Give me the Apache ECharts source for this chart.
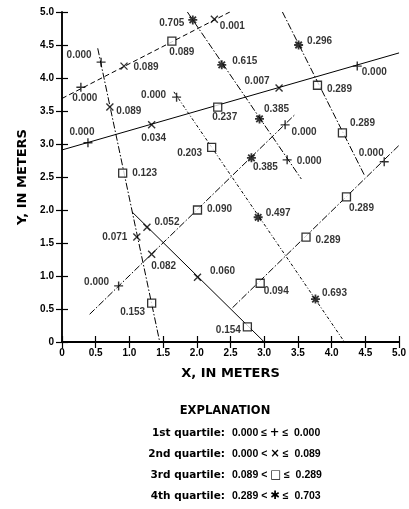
<!DOCTYPE html>
<html>
<head>
<meta charset="utf-8">
<script src="https://cdn.jsdelivr.net/npm/echarts@6/dist/echarts.min.js"></script>
<style>html,body{margin:0;padding:0;background:#fff}#c{width:409px;height:509px}</style>
</head>
<body>
<div id="c"></div>
<script>
// Transect lines (start / end points, meters)
const lineNames = ['A','B','C','E','F','G','H','I','J'];
const lineStarts = [[0,2.91],[1.86,5.0],[0.41,0.42],[0,3.69],[0.53,4.45],[1.04,1.97],[2.53,0.52],[3.27,5.0],[1.66,3.79]];
const lineEnds   = [[5,4.38],[3.55,2.47],[3.45,3.44],[2.49,5.0],[1.45,0],[3.0,0],[5.0,2.98],[4.49,2.52],[4.19,0]];
const lineDash   = ['solid','dashdot','dashdot','dashed','dashdot','solid','dashdot','dashdot','dotdash'];

// Sample points
const pointX = [0.385,1.33,2.31,3.22,4.38, 1.94,2.37,2.93,3.34, 0.84,1.33,2.01,2.81,3.31, 0.28,0.92,1.63,2.26, 0.58,0.71,0.90,1.11,1.33, 1.26,2.01,2.75, 2.94,3.62,4.22,4.78, 3.51,3.79,4.16, 1.70,2.22,2.91,3.76];
const pointY = [3.02,3.29,3.56,3.85,4.18, 4.88,4.20,3.38,2.76, 0.85,1.33,2.00,2.79,3.29, 3.86,4.18,4.56,4.89, 4.24,3.56,2.56,1.59,0.59, 1.74,0.98,0.23, 0.89,1.59,2.20,2.73, 4.50,3.89,3.17, 3.71,2.95,1.89,0.65];
const pointText = ['0.000','0.034','0.237','0.007','0.000', '0.705','0.615','0.385','0.000', '0.000','0.082','0.090','0.385','0.000', '0.000','0.089','0.089','0.001', '0.000','0.089','0.123','0.071','0.153', '0.052','0.060','0.154', '0.094','0.289','0.289','0.000', '0.296','0.289','0.289', '0.000','0.203','0.497','0.693'];
const pointQuartile = [1,2,3,2,1, 4,4,4,1, 1,2,3,4,1, 1,2,3,2, 1,2,3,2,3, 2,2,3, 3,3,3,1, 4,3,3, 1,3,4,4];
// label placement (pixels, relative to marker) — styling only
const labelOffsets = [[-6,-10],[2,13],[7,10],[-22,-7],[17,6], [-21,3],[23,-4],[17,-10],[22,1], [-22,-4],[12,12],[22,-1],[14,9],[19,7], [4,11],[22,1],[10,11],[18,7], [-22,-7],[19,4],[22,0],[-22,0],[-19,9], [20,-5],[25,-6],[-19,3], [16,8],[22,3],[15,11],[-13,-9], [21,-4],[22,4],[20,-10], [-23,-2],[-22,6],[20,-4],[19,-6]];

// Axis ticks
const axisMin = 0, axisMax = 5, axisStep = 0.5;

// Explanation
const legendTitle = 'EXPLANATION';
const legendLabels = ['1st quartile:','2nd quartile:','3rd quartile:','4th quartile:'];
const legendLow  = ['0.000','0.000','0.089','0.289'];
const legendOp   = ['\u2264','<','<','<'];
const legendSym  = ['+','\u00d7','\u25a1','\u2731'];
const legendHigh = ['0.000','0.089','0.289','0.703'];

const FONT = 'Liberation Sans, Arial, Helvetica, sans-serif';
const WIDE = 'DejaVu Sans, sans-serif';
const dashMap = {solid:'solid', dashed:[5,3], dashdot:[7,2,1.5,2], dotdash:[3,2,1,2]};
const symbols = {
  1: 'path://M5 0L5 10M0 5L10 5',
  2: 'path://M0 0L10 10M10 0L0 10',
  3: 'rect',
  4: 'path://M5 0L5 10M0 5L10 5M1.4 1.4L8.6 8.6M8.6 1.4L1.4 8.6'
};
const symSize = {1:9, 2:7, 3:8, 4:9};
const symStyle = {
  1:{color:'#000', borderColor:'#000', borderWidth:1.4},
  2:{color:'#000', borderColor:'#000', borderWidth:1.4},
  3:{color:'#fff', borderColor:'#000', borderWidth:1.3},
  4:{color:'#000', borderColor:'#000', borderWidth:1.8}
};

const series = [];
lineNames.forEach((n,i)=>{
  series.push({
    type:'line', name:'line'+n, silent:true, symbol:'none', z:2,
    data:[lineStarts[i], lineEnds[i]],
    lineStyle:{color:'#000', width:1, type:dashMap[lineDash[i]]}
  });
});
[1,2,3,4].forEach(q=>{
  const data = [];
  pointX.forEach((x,i)=>{
    if (pointQuartile[i]!==q) return;
    data.push({value:[x, pointY[i]], label:{formatter:pointText[i], offset:labelOffsets[i]}});
  });
  series.push({
    type:'scatter', name:'q'+q, z:5, symbol:symbols[q], symbolSize:symSize[q],
    itemStyle:symStyle[q], data:data,
    label:{show:true, position:'inside', color:'#000', fontFamily:FONT, fontWeight:'bold', fontSize:10},
    emphasis:{disabled:true}
  });
});

const fmt = v => v===0 ? '0' : v.toFixed(1);
const axisCommon = {
  type:'value', min:axisMin, max:axisMax, interval:axisStep,
  splitLine:{show:false},
  axisLine:{show:true, lineStyle:{color:'#000', width:1.5}},
  axisTick:{show:true, inside:true, length:6, lineStyle:{color:'#000', width:1.2}}
};

const graphic = [{type:'text', style:{text:legendTitle, x:225, y:411, textAlign:'center', textVerticalAlign:'middle', fontFamily:WIDE, fontWeight:'bold', fontSize:11.5, fill:'#000'}}];
legendLabels.forEach((t,i)=>{
  const y = 433 + i*21;
  graphic.push({type:'text', style:{text:t, x:225, y:y, textAlign:'right', textVerticalAlign:'middle', fontFamily:WIDE, fontWeight:'bold', fontSize:10.5, fill:'#000'}});
  graphic.push({type:'text', style:{
    text:'{n|'+legendLow[i]+' '+legendOp[i]+' }{s|'+legendSym[i]+'}{n| \u2264  '+legendHigh[i]+'}',
    x:232, y:y, textAlign:'left', textVerticalAlign:'middle', fill:'#000',
    fontFamily:FONT, fontWeight:'bold', fontSize:10,
    rich:{
      n:{fontFamily:FONT, fontWeight:'bold', fontSize:10.5, fill:'#000'},
      s:{fontFamily:WIDE, fontWeight:'bold', fontSize:11.5, fill:'#000'}
    }
  }});
});

const chart = echarts.init(document.getElementById('c'), null, {renderer:'canvas'});
chart.setOption({
  animation:false,
  backgroundColor:'#fff',
  grid:{left:62, right:9, top:12, bottom:167, containLabel:false},
  xAxis:[
    Object.assign({}, axisCommon, {position:'bottom',
      axisLine:{show:true, lineStyle:{color:'#000', width:2}},
      axisLabel:{formatter:fmt, color:'#000', fontFamily:FONT, fontWeight:'bold', fontSize:10, margin:6},
      name:'X, IN METERS', nameLocation:'middle', nameGap:25,
      nameTextStyle:{color:'#000', fontFamily:WIDE, fontWeight:'bold', fontSize:13}}),
    Object.assign({}, axisCommon, {position:'top', axisLabel:{show:false}})
  ],
  yAxis:[
    Object.assign({}, axisCommon, {position:'left',
      axisLabel:{formatter:fmt, color:'#000', fontFamily:FONT, fontWeight:'bold', fontSize:10, margin:8},
      name:'Y, IN METERS', nameLocation:'middle', nameGap:21,
      nameTextStyle:{color:'#000', fontFamily:WIDE, fontWeight:'bold', fontSize:13}}),
    Object.assign({}, axisCommon, {position:'right', axisLabel:{show:false}})
  ],
  series:series,
  graphic:graphic
});
</script>
</body>
</html>
